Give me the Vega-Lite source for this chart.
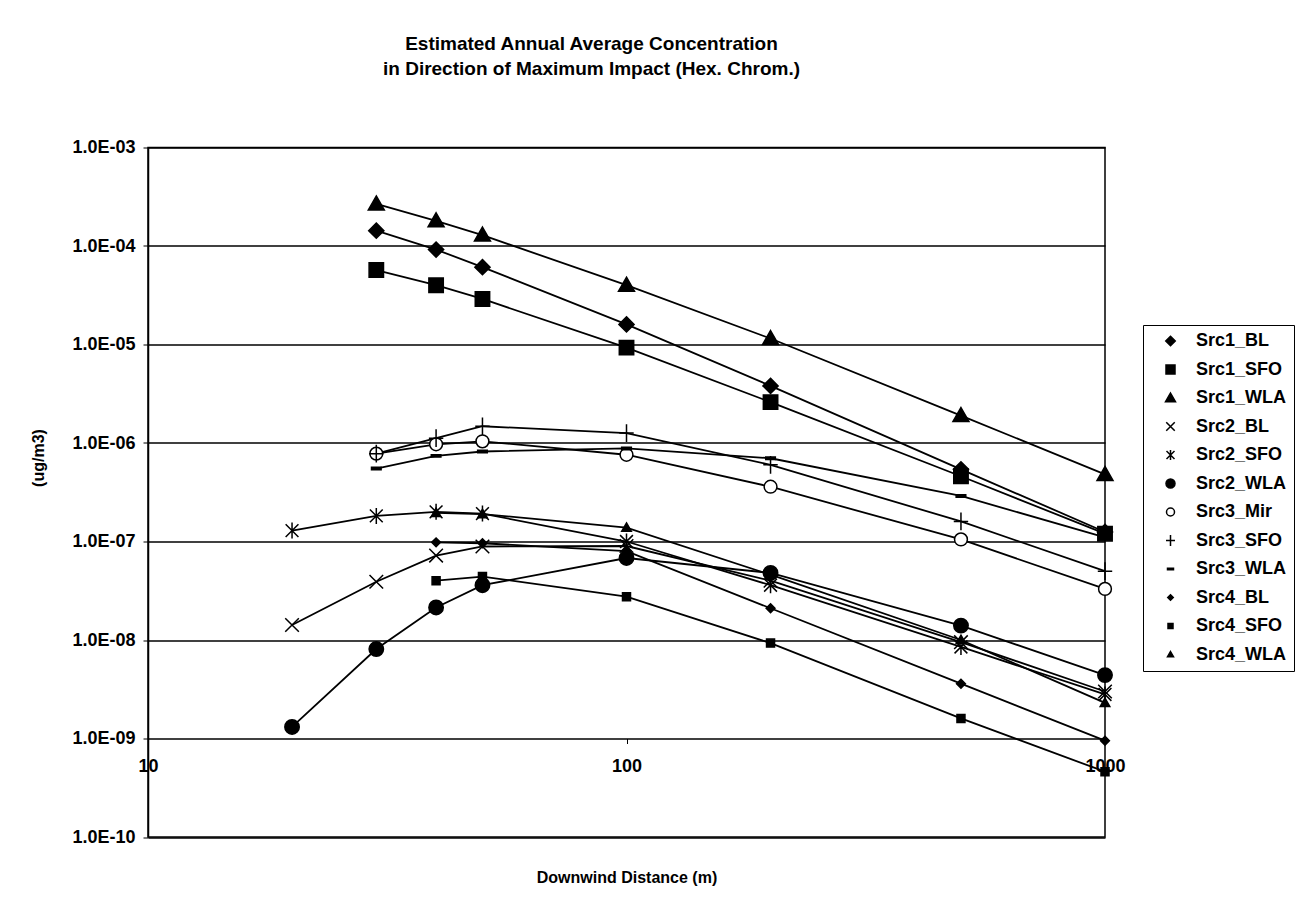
{
  "$schema": "https://vega.github.io/schema/vega-lite/v6.json",
  "width": 957,
  "height": 689.5,
  "autosize": {"type": "none"},
  "padding": {"left": 148, "top": 147.5, "right": 200, "bottom": 77},
  "background": "white",
  "config": {
    "font": "Liberation Sans",
    "view": {"stroke": "black", "strokeWidth": 1.5}
  },
  "title": {
    "text": ["Estimated Annual Average Concentration", "in Direction of Maximum Impact (Hex. Chrom.)"],
    "fontSize": 19,
    "fontWeight": "bold",
    "lineHeight": 25,
    "offset": 60,
    "anchor": "middle",
    "dx": -35,
    "color": "black"
  },
  "data": {
    "values": [
      {"s": "Src1_BL", "x": 30, "y": 1.43e-4}, {"s": "Src1_BL", "x": 40, "y": 9.2e-5}, {"s": "Src1_BL", "x": 50, "y": 6.1e-5}, {"s": "Src1_BL", "x": 100, "y": 1.6e-5}, {"s": "Src1_BL", "x": 200, "y": 3.8e-6}, {"s": "Src1_BL", "x": 500, "y": 5.4e-7}, {"s": "Src1_BL", "x": 1000, "y": 1.25e-7},
      {"s": "Src1_SFO", "x": 30, "y": 5.7e-5}, {"s": "Src1_SFO", "x": 40, "y": 4.0e-5}, {"s": "Src1_SFO", "x": 50, "y": 2.9e-5}, {"s": "Src1_SFO", "x": 100, "y": 9.3e-6}, {"s": "Src1_SFO", "x": 200, "y": 2.6e-6}, {"s": "Src1_SFO", "x": 500, "y": 4.6e-7}, {"s": "Src1_SFO", "x": 1000, "y": 1.2e-7},
      {"s": "Src1_WLA", "x": 30, "y": 2.67e-4}, {"s": "Src1_WLA", "x": 40, "y": 1.8e-4}, {"s": "Src1_WLA", "x": 50, "y": 1.29e-4}, {"s": "Src1_WLA", "x": 100, "y": 4.0e-5}, {"s": "Src1_WLA", "x": 200, "y": 1.15e-5}, {"s": "Src1_WLA", "x": 500, "y": 1.9e-6}, {"s": "Src1_WLA", "x": 1000, "y": 4.8e-7},
      {"s": "Src2_BL", "x": 20, "y": 1.42e-8}, {"s": "Src2_BL", "x": 30, "y": 3.9e-8}, {"s": "Src2_BL", "x": 40, "y": 7.2e-8}, {"s": "Src2_BL", "x": 50, "y": 8.9e-8}, {"s": "Src2_BL", "x": 100, "y": 9.0e-8}, {"s": "Src2_BL", "x": 200, "y": 4.0e-8}, {"s": "Src2_BL", "x": 500, "y": 9.5e-9}, {"s": "Src2_BL", "x": 1000, "y": 3.0e-9},
      {"s": "Src2_SFO", "x": 20, "y": 1.29e-7}, {"s": "Src2_SFO", "x": 30, "y": 1.82e-7}, {"s": "Src2_SFO", "x": 40, "y": 2.0e-7}, {"s": "Src2_SFO", "x": 50, "y": 1.92e-7}, {"s": "Src2_SFO", "x": 100, "y": 1.0e-7}, {"s": "Src2_SFO", "x": 200, "y": 3.6e-8}, {"s": "Src2_SFO", "x": 500, "y": 8.5e-9}, {"s": "Src2_SFO", "x": 1000, "y": 2.8e-9},
      {"s": "Src2_WLA", "x": 20, "y": 1.31e-9}, {"s": "Src2_WLA", "x": 30, "y": 8.1e-9}, {"s": "Src2_WLA", "x": 40, "y": 2.14e-8}, {"s": "Src2_WLA", "x": 50, "y": 3.6e-8}, {"s": "Src2_WLA", "x": 100, "y": 6.8e-8}, {"s": "Src2_WLA", "x": 200, "y": 4.8e-8}, {"s": "Src2_WLA", "x": 500, "y": 1.4e-8}, {"s": "Src2_WLA", "x": 1000, "y": 4.4e-9},
      {"s": "Src3_Mir", "x": 30, "y": 7.8e-7}, {"s": "Src3_Mir", "x": 40, "y": 9.7e-7}, {"s": "Src3_Mir", "x": 50, "y": 1.04e-6}, {"s": "Src3_Mir", "x": 100, "y": 7.6e-7}, {"s": "Src3_Mir", "x": 200, "y": 3.6e-7}, {"s": "Src3_Mir", "x": 500, "y": 1.05e-7}, {"s": "Src3_Mir", "x": 1000, "y": 3.3e-8},
      {"s": "Src3_SFO", "x": 30, "y": 7.8e-7}, {"s": "Src3_SFO", "x": 40, "y": 1.12e-6}, {"s": "Src3_SFO", "x": 50, "y": 1.48e-6}, {"s": "Src3_SFO", "x": 100, "y": 1.26e-6}, {"s": "Src3_SFO", "x": 200, "y": 6.0e-7}, {"s": "Src3_SFO", "x": 500, "y": 1.6e-7}, {"s": "Src3_SFO", "x": 1000, "y": 5.0e-8},
      {"s": "Src3_WLA", "x": 30, "y": 5.5e-7}, {"s": "Src3_WLA", "x": 40, "y": 7.4e-7}, {"s": "Src3_WLA", "x": 50, "y": 8.2e-7}, {"s": "Src3_WLA", "x": 100, "y": 8.8e-7}, {"s": "Src3_WLA", "x": 200, "y": 7.0e-7}, {"s": "Src3_WLA", "x": 500, "y": 2.9e-7}, {"s": "Src3_WLA", "x": 1000, "y": 1.1e-7},
      {"s": "Src4_BL", "x": 40, "y": 9.8e-8}, {"s": "Src4_BL", "x": 50, "y": 9.6e-8}, {"s": "Src4_BL", "x": 100, "y": 8.0e-8}, {"s": "Src4_BL", "x": 200, "y": 2.1e-8}, {"s": "Src4_BL", "x": 500, "y": 3.6e-9}, {"s": "Src4_BL", "x": 1000, "y": 9.5e-10},
      {"s": "Src4_SFO", "x": 40, "y": 4.0e-8}, {"s": "Src4_SFO", "x": 50, "y": 4.4e-8}, {"s": "Src4_SFO", "x": 100, "y": 2.75e-8}, {"s": "Src4_SFO", "x": 200, "y": 9.3e-9}, {"s": "Src4_SFO", "x": 500, "y": 1.6e-9}, {"s": "Src4_SFO", "x": 1000, "y": 4.6e-10},
      {"s": "Src4_WLA", "x": 40, "y": 1.95e-7}, {"s": "Src4_WLA", "x": 50, "y": 1.9e-7}, {"s": "Src4_WLA", "x": 100, "y": 1.38e-7}, {"s": "Src4_WLA", "x": 200, "y": 4.6e-8}, {"s": "Src4_WLA", "x": 500, "y": 1.0e-8}, {"s": "Src4_WLA", "x": 1000, "y": 2.3e-9}
    ]
  },
  "transform": [{"calculate": "datum.s", "as": "m"}],
  "encoding": {
    "x": {
      "field": "x",
      "type": "quantitative",
      "scale": {"type": "log", "domain": [10, 1000], "nice": false},
      "axis": {
        "title": "Downwind Distance (m)",
        "values": [10, 100, 1000],
        "format": "d",
        "offset": -98.5,
        "domain": false,
        "grid": false,
        "ticks": true,
        "tickColor": "black",
        "tickSize": 5,
        "labelFontSize": 18,
        "labelFontWeight": "bold",
        "labelColor": "black",
        "labelPadding": 14,
        "labelFlush": false,
        "labelOverlap": false,
        "titleFontSize": 16,
        "titleFontWeight": "bold",
        "titleColor": "black",
        "titleY": 139,
        "titleBaseline": "middle"
      }
    },
    "y": {
      "field": "y",
      "type": "quantitative",
      "scale": {"type": "log", "domain": [1e-10, 1e-3], "nice": false},
      "axis": {
        "title": "(ug/m3)",
        "values": [1e-10, 1e-9, 1e-8, 1e-7, 1e-6, 1e-5, 1e-4, 1e-3],
        "labelExpr": "'1.0E-' + (abs(round(log(datum.value)/LN10)) < 10 ? '0' : '') + abs(round(log(datum.value)/LN10))",
        "grid": true,
        "gridColor": "black",
        "gridWidth": 1.5,
        "gridOpacity": 1,
        "domainColor": "black",
        "domainWidth": 1.5,
        "tickColor": "black",
        "tickSize": 5,
        "labelFontSize": 18,
        "labelFontWeight": "bold",
        "labelColor": "black",
        "labelPadding": 8,
        "labelFlush": false,
        "labelOverlap": false,
        "titleFontSize": 16,
        "titleFontWeight": "bold",
        "titleColor": "black",
        "titleX": -110,
        "titleY": 310,
        "titleAngle": -90,
        "titleBaseline": "middle",
        "titleAlign": "center"
      }
    }
  },
  "layer": [
    {
      "mark": {"type": "line", "strokeWidth": 1.8},
      "encoding": {
        "color": {
          "field": "s",
          "type": "nominal",
          "scale": {
            "domain": ["Src1_BL", "Src1_SFO", "Src1_WLA", "Src2_BL", "Src2_SFO", "Src2_WLA", "Src3_Mir", "Src3_SFO", "Src3_WLA", "Src4_BL", "Src4_SFO", "Src4_WLA"],
            "range": ["black", "black", "black", "black", "black", "black", "black", "black", "black", "black", "black", "black"]
          },
          "legend": {
            "orient": "none",
            "legendX": 995,
            "legendY": 177.5,
            "title": null,
            "labelFontSize": 18,
            "labelFontWeight": "bold",
            "labelColor": "black",
            "strokeColor": "black",
            "fillColor": "white",
            "padding": 7,
            "symbolSize": 100,
            "symbolStrokeWidth": 1.5,
            "symbolOffset": 11.5,
            "labelOffset": 16.5,
            "rowPadding": 10.5,
            "encode": {
              "symbols": {
                "update": {
                  "size": {"value": 100},
                  "strokeWidth": {"value": 1.5},
                  "fill": {"signal": "{'Src1_BL':'black','Src1_SFO':'black','Src1_WLA':'black','Src2_BL':'transparent','Src2_SFO':'transparent','Src2_WLA':'black','Src3_Mir':'white','Src3_SFO':'transparent','Src3_WLA':'black','Src4_BL':'black','Src4_SFO':'black','Src4_WLA':'black'}[datum.value]"}
                }
              }
            }
          }
        }
      }
    },
    {
      "mark": {"type": "point", "filled": true, "stroke": "black", "strokeWidth": 1.5, "size": 256, "opacity": 1},
      "encoding": {
        "shape": {
          "field": "m",
          "type": "nominal",
          "scale": {
            "domain": ["Src1_BL", "Src1_SFO", "Src1_WLA", "Src2_BL", "Src2_SFO", "Src2_WLA", "Src3_Mir", "Src3_SFO", "Src3_WLA", "Src4_BL", "Src4_SFO", "Src4_WLA"],
            "range": [
              "M0,-0.95L0.95,0L0,0.95L-0.95,0Z",
              "M-0.9,-0.9L0.9,-0.9L0.9,0.9L-0.9,0.9Z",
              "M0,-1L1,0.75L-1,0.75Z",
              "M-0.85,-0.85L0.85,0.85M-0.85,0.85L0.85,-0.85",
              "M0,-1L0,1M-0.8,-0.8L0.8,0.8M-0.8,0.8L0.8,-0.8",
              "M-0.9,0A0.9,0.9,0,1,1,0.9,0A0.9,0.9,0,1,1,-0.9,0Z",
              "M-0.8,0A0.8,0.8,0,1,1,0.8,0A0.8,0.8,0,1,1,-0.8,0Z",
              "M-0.9,0L0.9,0M0,-1.1L0,1.1",
              "M-0.6,-0.15L0.6,-0.15L0.6,0.15L-0.6,0.15Z",
              "M0,-0.55L0.55,0L0,0.55L-0.55,0Z",
              "M-0.5,-0.5L0.5,-0.5L0.5,0.5L-0.5,0.5Z",
              "M0,-0.6L0.6,0.45L-0.6,0.45Z"
            ]
          },
          "legend": null
        },
        "fill": {
          "field": "m",
          "type": "nominal",
          "scale": {
            "domain": ["Src1_BL", "Src1_SFO", "Src1_WLA", "Src2_BL", "Src2_SFO", "Src2_WLA", "Src3_Mir", "Src3_SFO", "Src3_WLA", "Src4_BL", "Src4_SFO", "Src4_WLA"],
            "range": ["black", "black", "black", "transparent", "transparent", "black", "white", "transparent", "black", "black", "black", "black"]
          },
          "legend": null
        }
      }
    }
  ]
}
